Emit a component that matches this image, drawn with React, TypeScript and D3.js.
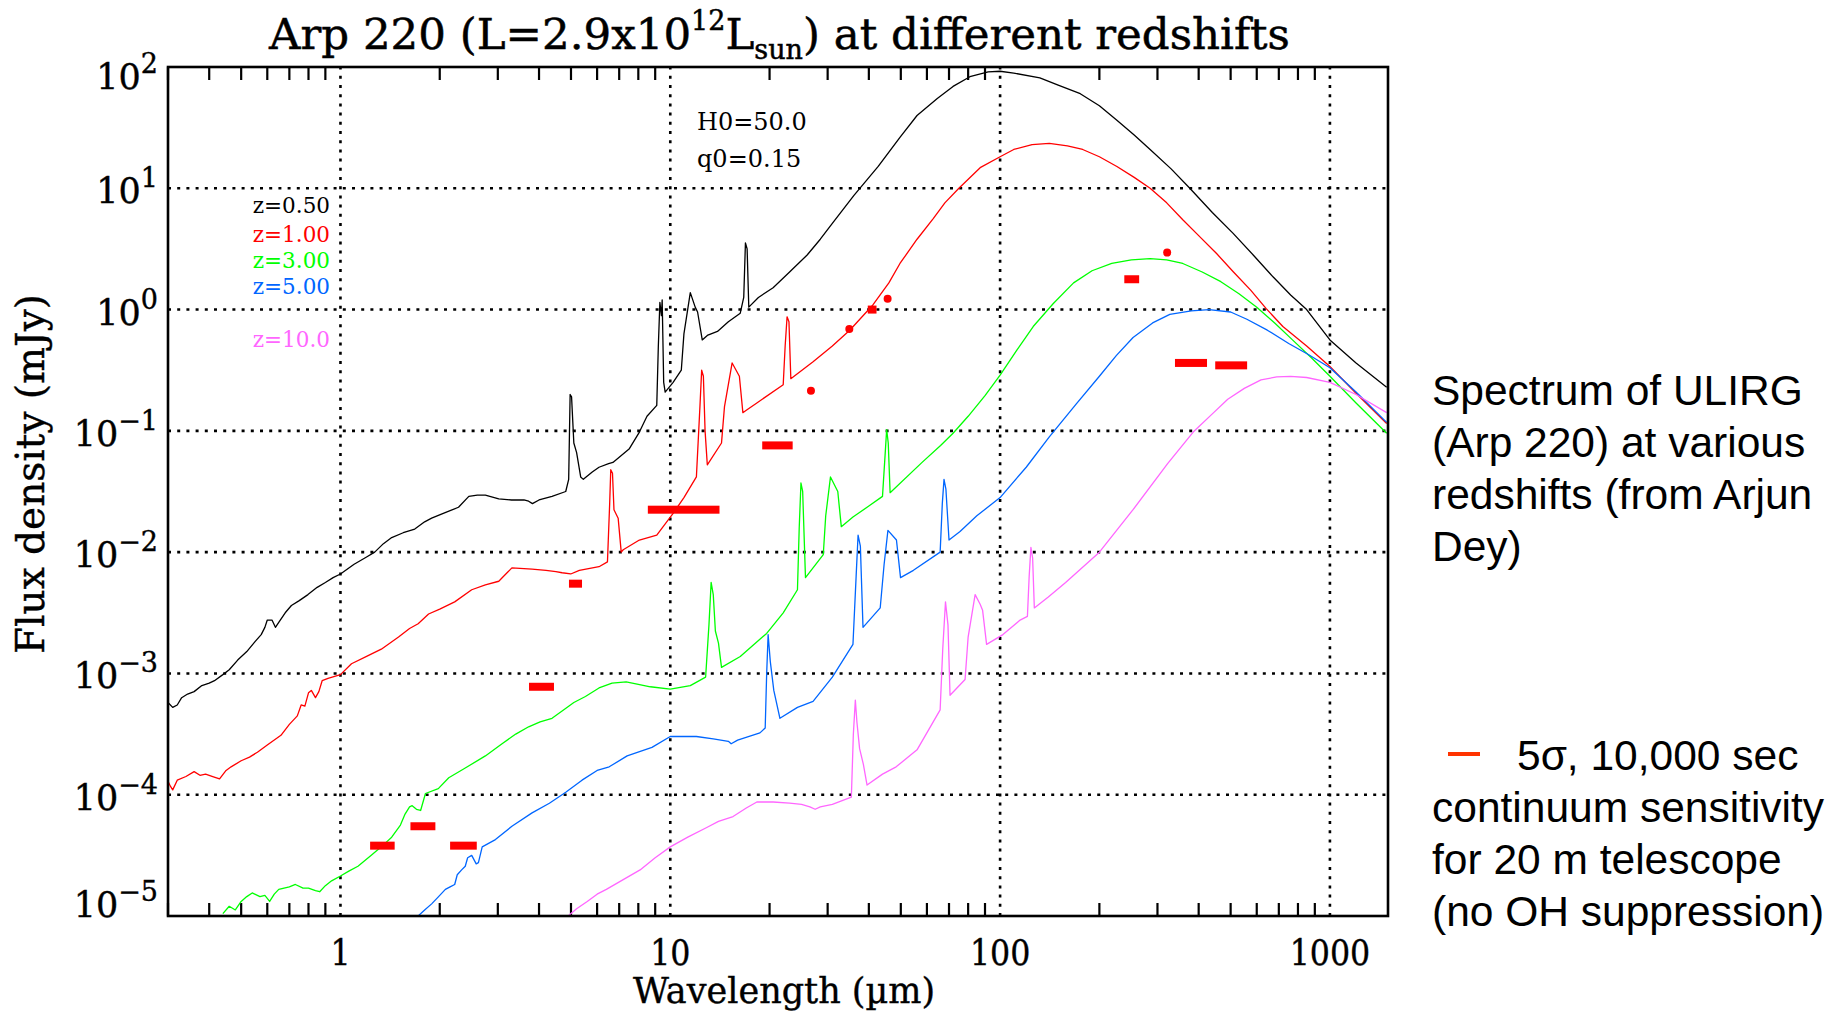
import React from 'react';
import * as d3 from 'd3';

const W = 1835;
const H = 1014;
const PLOT = { left: 168, right: 1388, top: 67, bottom: 916 };

const xDomain: [number, number] = [0.3, 1500];
const yDomain: [number, number] = [1e-5, 1e2];
const xTickValues = [1, 10, 100, 1000];
const xTickLabels = ['1', '10', '100', '1000'];
const yTickExponents = [2, 1, 0, -1, -2, -3, -4, -5];

const seriesNames = ['z=0.50', 'z=1.00', 'z=3.00', 'z=5.00', 'z=10.0'];
const seriesColors = ['#000000', '#ff0000', '#00ff00', '#0066ff', '#ff66ff'];

// [wavelength (µm), log10 flux density (mJy)]
const specZ050: [number, number][] = [
  [0.30, -3.24], [0.31, -3.28], [0.32, -3.26], [0.33, -3.20], [0.344, -3.17], [0.36, -3.15], [0.38, -3.10],
  [0.40, -3.08], [0.415, -3.06], [0.44, -3.01], [0.46, -2.97], [0.488, -2.89], [0.52, -2.82], [0.55, -2.74],
  [0.575, -2.68], [0.59, -2.62], [0.60, -2.56], [0.62, -2.56], [0.635, -2.62], [0.65, -2.58], [0.68, -2.50],
  [0.71, -2.44], [0.75, -2.40], [0.797, -2.35], [0.85, -2.29], [0.90, -2.25], [0.95, -2.21], [1.0, -2.18],
  [1.1, -2.10], [1.2, -2.04], [1.27, -2.0], [1.35, -1.93], [1.43, -1.88], [1.55, -1.84], [1.68, -1.81],
  [1.8, -1.75], [1.89, -1.72], [2.05, -1.68], [2.28, -1.63], [2.45, -1.54], [2.6, -1.53], [2.75, -1.53],
  [3.02, -1.56], [3.3, -1.57], [3.6, -1.57], [3.72, -1.58], [3.82, -1.60], [4.0, -1.57], [4.38, -1.54],
  [4.82, -1.50], [4.92, -1.40], [4.97, -0.70], [5.02, -0.72], [5.1, -1.10], [5.2, -1.18], [5.35, -1.38],
  [5.45, -1.40], [5.8, -1.34], [6.08, -1.30], [6.5, -1.27], [6.7, -1.26], [7.5, -1.15], [8.06, -1.01],
  [8.5, -0.88], [9.1, -0.79], [9.2, -0.30], [9.3, 0.06], [9.4, -0.05], [9.45, 0.08], [9.55, -0.60],
  [9.65, -0.68], [10.2, -0.60], [10.8, -0.50], [11.0, -0.20], [11.5, 0.14], [11.9, 0.02], [12.1, -0.02],
  [12.5, -0.25], [13.0, -0.21], [13.9, -0.18], [15, -0.10], [16.3, -0.03], [16.7, 0.10], [16.9, 0.55],
  [17.1, 0.50], [17.3, 0.02], [18.5, 0.10], [20.5, 0.18], [23, 0.31], [26, 0.45], [28.5, 0.58], [31, 0.71],
  [36, 0.94], [42.7, 1.18], [49.7, 1.42], [56, 1.60], [64.5, 1.74], [72, 1.84], [81, 1.92], [92, 1.96],
  [100, 1.965], [110, 1.95], [132, 1.91], [150, 1.85], [175, 1.78], [200, 1.68], [226, 1.56], [255, 1.44],
  [285, 1.32], [330, 1.16], [376, 1.0], [440, 0.80], [508, 0.63], [590, 0.44], [672, 0.27], [760, 0.12],
  [850, 0.0], [1000, -0.25], [1200, -0.44], [1486, -0.64],
];

const specZ100: [number, number][] = [
  [0.30, -3.89], [0.305, -3.93], [0.31, -3.96], [0.32, -3.88], [0.34, -3.85], [0.36, -3.81], [0.375, -3.84],
  [0.39, -3.83], [0.41, -3.85], [0.43, -3.87], [0.45, -3.80], [0.466, -3.77], [0.50, -3.72], [0.53, -3.69],
  [0.56, -3.65], [0.60, -3.59], [0.66, -3.51], [0.70, -3.42], [0.74, -3.35], [0.76, -3.26], [0.78, -3.27],
  [0.80, -3.16], [0.816, -3.14], [0.84, -3.20], [0.86, -3.15], [0.88, -3.06], [0.917, -3.04], [1.0, -3.01],
  [1.08, -2.92], [1.2, -2.86], [1.33, -2.80], [1.5, -2.70], [1.62, -2.63], [1.72, -2.59], [1.85, -2.51],
  [2.0, -2.47], [2.22, -2.41], [2.5, -2.31], [2.75, -2.27], [3.02, -2.24], [3.2, -2.17], [3.31, -2.13],
  [3.81, -2.14], [4.2, -2.15], [4.5, -2.16], [4.7, -2.17], [4.99, -2.18], [5.3, -2.15], [6.08, -2.12],
  [6.45, -2.08], [6.55, -1.60], [6.6, -1.32], [6.68, -1.35], [6.75, -1.65], [6.95, -1.72], [7.1, -2.0],
  [7.2, -1.98], [8.06, -1.90], [9.1, -1.86], [10.2, -1.68], [11, -1.55], [12.0, -1.38], [12.3, -0.80],
  [12.45, -0.50], [12.6, -0.55], [12.75, -1.00], [12.95, -1.28], [14.3, -1.10], [14.6, -0.80], [15.4, -0.44],
  [16.2, -0.55], [16.6, -0.85], [17.0, -0.83], [18.3, -0.77], [22.0, -0.62], [22.3, -0.30], [22.6, -0.06],
  [22.9, -0.10], [23.2, -0.57], [27.1, -0.43], [31, -0.30], [35, -0.17], [41.2, 0.04], [46, 0.22],
  [49.7, 0.38], [56, 0.58], [62.7, 0.75], [68, 0.88], [75, 1.0], [87, 1.17], [100, 1.26], [110, 1.32],
  [125, 1.36], [141, 1.37], [160, 1.35], [178, 1.32], [200, 1.26], [226, 1.18], [255, 1.09], [285, 1.0],
  [320, 0.88], [358, 0.74], [400, 0.61], [454, 0.46], [510, 0.31], [575, 0.16], [640, 0.01], [720, -0.14],
  [850, -0.30], [1000, -0.47], [1200, -0.69], [1486, -0.94],
];

const specZ300: [number, number][] = [
  [0.44, -4.98], [0.46, -4.92], [0.48, -4.95], [0.50, -4.88], [0.52, -4.84], [0.54, -4.81], [0.57, -4.84],
  [0.59, -4.83], [0.61, -4.88], [0.63, -4.82], [0.65, -4.78], [0.70, -4.76], [0.73, -4.74], [0.77, -4.77],
  [0.80, -4.77], [0.84, -4.79], [0.865, -4.80], [0.90, -4.75], [0.94, -4.71], [1.0, -4.67], [1.06, -4.63],
  [1.13, -4.59], [1.24, -4.50], [1.33, -4.43], [1.43, -4.35], [1.52, -4.25], [1.57, -4.16], [1.62, -4.10],
  [1.65, -4.09], [1.70, -4.12], [1.75, -4.13], [1.81, -3.99], [1.98, -3.95], [2.13, -3.86], [2.39, -3.78],
  [2.75, -3.68], [3.09, -3.58], [3.4, -3.50], [3.72, -3.44], [4.03, -3.40], [4.38, -3.37], [4.92, -3.27],
  [5.1, -3.24], [5.53, -3.19], [6.08, -3.12], [6.66, -3.08], [7.35, -3.07], [8.0, -3.09], [8.7, -3.11],
  [10, -3.13], [11.5, -3.10], [12.8, -3.03], [13.1, -2.60], [13.3, -2.25], [13.5, -2.35], [13.7, -2.65],
  [14.0, -2.75], [14.3, -2.95], [16.3, -2.86], [19.6, -2.67], [22, -2.50], [24.3, -2.31], [24.6, -1.80],
  [24.9, -1.43], [25.2, -1.50], [25.7, -2.21], [29.1, -2.02], [29.6, -1.70], [30.6, -1.38], [32.2, -1.50],
  [33, -1.79], [35.8, -1.71], [40, -1.62], [44, -1.54], [44.8, -1.20], [45.3, -0.99], [45.8, -1.10],
  [46.4, -1.51], [58, -1.26], [66, -1.12], [72, -1.02], [80, -0.88], [90, -0.71], [100, -0.54], [112, -0.34],
  [126, -0.14], [145, 0.05], [167, 0.22], [190, 0.32], [218, 0.38], [250, 0.41], [285, 0.42], [320, 0.41],
  [358, 0.38], [410, 0.31], [467, 0.23], [530, 0.13], [600, 0.02], [680, -0.11], [770, -0.25], [880, -0.40],
  [1000, -0.55], [1200, -0.77], [1486, -1.02],
];

const specZ500: [number, number][] = [
  [1.72, -5.0], [1.80, -4.95], [1.89, -4.90], [2.0, -4.83], [2.08, -4.78], [2.15, -4.76], [2.22, -4.74],
  [2.26, -4.66], [2.33, -4.62], [2.39, -4.59], [2.43, -4.52], [2.50, -4.50], [2.58, -4.57], [2.62, -4.56],
  [2.69, -4.43], [2.95, -4.37], [3.31, -4.26], [3.81, -4.15], [4.3, -4.07], [4.82, -3.98], [5.4, -3.88],
  [6.0, -3.80], [6.53, -3.77], [7.4, -3.68], [8.8, -3.61], [10, -3.52], [12, -3.52], [13.5, -3.54],
  [15, -3.56], [15.3, -3.58], [16, -3.55], [18.7, -3.49], [19.4, -3.45], [19.6, -3.0], [19.8, -2.68],
  [20.1, -2.9], [20.6, -3.14], [21.5, -3.37], [24.3, -3.28], [27.1, -3.23], [31, -3.03], [35.8, -2.76],
  [36.6, -2.2], [37.1, -1.86], [37.7, -1.95], [38.4, -2.62], [43.3, -2.46], [44.5, -2.1], [45.7, -1.82],
  [48.5, -1.90], [49.9, -2.21], [54.6, -2.15], [65.8, -2.00], [66.8, -1.6], [67.6, -1.40], [68.5, -1.48],
  [70, -1.90], [75.6, -1.83], [85, -1.70], [100, -1.55], [120, -1.30], [141, -1.05], [170, -0.78],
  [200, -0.55], [225, -0.38], [253, -0.23], [290, -0.11], [327, -0.04], [380, -0.01], [430, 0.0],
  [500, -0.02], [560, -0.08], [646, -0.17], [750, -0.28], [860, -0.37], [1000, -0.48], [1200, -0.68],
  [1486, -0.93],
];

const specZ1000: [number, number][] = [
  [4.9, -5.0], [5.2, -4.94], [5.6, -4.88], [6.0, -4.82], [6.4, -4.78], [7.2, -4.70], [8.1, -4.62],
  [9, -4.52], [10, -4.43], [11.3, -4.35], [12.9, -4.27], [14, -4.22], [15.5, -4.18], [17, -4.11],
  [18.3, -4.06], [20.5, -4.06], [23, -4.07], [25, -4.08], [26.5, -4.10], [27.5, -4.12], [28.5, -4.10],
  [31, -4.08], [35.4, -4.02], [35.9, -3.50], [36.4, -3.22], [36.8, -3.40], [37.5, -3.62], [38.5, -3.75],
  [39.5, -3.92], [44, -3.83], [48.4, -3.77], [56, -3.63], [65.8, -3.30], [67, -2.80], [68.3, -2.41],
  [69.5, -2.60], [70.5, -3.18], [78.3, -3.05], [80, -2.70], [84, -2.35], [87, -2.43], [88.5, -2.48],
  [91, -2.76], [102, -2.68], [115, -2.56], [121, -2.53], [122.5, -2.20], [124, -1.96], [125.5, -2.05],
  [127, -2.46], [140, -2.37], [158, -2.25], [200, -2.0], [253, -1.65], [322, -1.27], [385, -1.01],
  [440, -0.86], [490, -0.74], [550, -0.65], [618, -0.58], [690, -0.555], [760, -0.55], [850, -0.56],
  [1000, -0.60], [1200, -0.70], [1486, -0.85],
];

const allSpectra = [specZ050, specZ100, specZ300, specZ500, specZ1000];

// sensitivity bars: [lambda min, lambda max, log10 flux]
const sensitivityBars: [number, number, number][] = [
  [1.23, 1.46, -4.42], [1.63, 1.94, -4.26], [2.15, 2.59, -4.42], [3.73, 4.44, -3.11],
  [4.93, 5.40, -2.26], [8.55, 14.1, -1.65], [19.0, 23.5, -1.12], [39.7, 42.2, 0.0],
  [238, 264, 0.25], [339, 424, -0.44], [449, 561, -0.46],
];
// sensitivity points: [lambda, log10 flux]
const sensitivityDots: [number, number][] = [
  [26.7, -0.67], [34.9, -0.16], [45.6, 0.09], [321, 0.47],
];

const legendBaselines = [213, 242, 268, 294, 347];

const serif = "'DejaVu Serif', serif";
const sans = "'Liberation Sans', Arial, sans-serif";

export default function App() {
  const x = d3.scaleLog().domain(xDomain).range([PLOT.left, PLOT.right]);
  const y = d3.scaleLog().domain(yDomain).range([PLOT.bottom, PLOT.top]);
  const line = d3
    .line<[number, number]>()
    .x((d) => x(d[0]))
    .y((d) => y(Math.pow(10, d[1])));

  const minorTicks: number[] = [];
  [0.1, 1, 10, 100, 1000].forEach((dec) => {
    for (let k = 2; k <= 9; k++) {
      const v = k * dec;
      if (v > xDomain[0] && v < xDomain[1]) minorTicks.push(v);
    }
  });

  const tickLen = 13;
  const gridStyle = { stroke: '#000', strokeWidth: 2.6, strokeDasharray: '3 6.2' };

  return (
    <svg
      width={W}
      height={H}
      style={{ position: 'fixed', left: 0, top: 0, background: '#fff' }}
      xmlns="http://www.w3.org/2000/svg"
    >
      <rect x={0} y={0} width={W} height={H} fill="#fff" />
      <defs>
        <clipPath id="plotClip">
          <rect x={PLOT.left} y={PLOT.top} width={PLOT.right - PLOT.left} height={PLOT.bottom - PLOT.top} />
        </clipPath>
      </defs>

      {/* Title */}
      <text x={269} y={49} fontFamily={serif} fontSize={43.5} fill="#000" stroke="#000" strokeWidth={0.5}>
        Arp 220 (L=2.9x10
        <tspan fontSize={27} dy={-19}>12</tspan>
        <tspan fontSize={43.5} dy={19}>L</tspan>
        <tspan fontSize={27} dy={10}>sun</tspan>
        <tspan fontSize={43.5} dy={-10}>) at different redshifts</tspan>
      </text>

      {/* grid */}
      {xTickValues.map((v) => (
        <line key={'gx' + v} x1={x(v)} x2={x(v)} y1={PLOT.bottom} y2={PLOT.top} {...gridStyle} />
      ))}
      {yTickExponents
        .filter((e) => e < 2 && e > -5)
        .map((e) => (
          <line key={'gy' + e} x1={PLOT.left} x2={PLOT.right} y1={y(Math.pow(10, e))} y2={y(Math.pow(10, e))} {...gridStyle} />
        ))}

      {/* minor ticks */}
      {minorTicks.map((v) => (
        <g key={'mt' + v}>
          <line x1={x(v)} x2={x(v)} y1={PLOT.top} y2={PLOT.top + tickLen} stroke="#000" strokeWidth={2.2} />
          <line x1={x(v)} x2={x(v)} y1={PLOT.bottom} y2={PLOT.bottom - tickLen} stroke="#000" strokeWidth={2.2} />
        </g>
      ))}

      {/* spectra */}
      <g clipPath="url(#plotClip)">
        {allSpectra.map((s, i) => (
          <path key={'s' + i} d={line(s) || ''} fill="none" stroke={seriesColors[i]} strokeWidth={1.3} strokeLinejoin="round" />
        ))}
        {sensitivityBars.map((b, i) => (
          <rect
            key={'b' + i}
            x={x(b[0])}
            width={x(b[1]) - x(b[0])}
            y={y(Math.pow(10, b[2])) - 4}
            height={8}
            fill="#ff0000"
          />
        ))}
        {sensitivityDots.map((d, i) => (
          <circle key={'d' + i} cx={x(d[0])} cy={y(Math.pow(10, d[1]))} r={4} fill="#ff0000" />
        ))}
      </g>

      {/* frame */}
      <rect
        x={PLOT.left}
        y={PLOT.top}
        width={PLOT.right - PLOT.left}
        height={PLOT.bottom - PLOT.top}
        fill="none"
        stroke="#000"
        strokeWidth={2.6}
      />

      {/* x tick labels */}
      {xTickValues.map((v, i) => (
        <g key={'xl' + v} transform={`translate(${x(v)},965) scale(0.88,1)`}>
          <text x={0} y={0} textAnchor="middle" fontFamily={serif} fontSize={36} fill="#000" stroke="#000" strokeWidth={0.4}>
            {xTickLabels[i]}
          </text>
        </g>
      ))}

      {/* y tick labels */}
      {yTickExponents.map((e) => {
        const gy = y(Math.pow(10, e));
        const off = e === 2 ? 22 : e === -5 ? 1 : 15;
        return (
          <g key={'yl' + e} transform={`translate(158,${gy + off})`}>
            <text x={0} y={0} textAnchor="end" fontFamily={serif} fontSize={35} fill="#000" stroke="#000" strokeWidth={0.4}>
              10
              <tspan fontSize={27} dy={-16}>{e < 0 ? '\u2212' + Math.abs(e) : String(e)}</tspan>
            </text>
          </g>
        );
      })}

      {/* axis titles */}
      <text x={784} y={1003} textAnchor="middle" fontFamily={serif} fontSize={35} fill="#000" stroke="#000" strokeWidth={0.4}>
        Wavelength (µm)
      </text>
      <text
        transform="translate(44,474) rotate(-90)"
        textAnchor="middle"
        fontFamily={serif}
        fontSize={39}
        fill="#000"
        stroke="#000"
        strokeWidth={0.4}
      >
        Flux density (mJy)
      </text>

      {/* in-plot legend */}
      {seriesNames.map((n, i) => (
        <text key={'lg' + i} x={330} y={legendBaselines[i]} textAnchor="end" fontFamily={serif} fontSize={21.5} fill={seriesColors[i]}>
          {n}
        </text>
      ))}
      <text x={697} y={130} fontFamily={serif} fontSize={24} fill="#000">H0=50.0</text>
      <text x={697} y={167} fontFamily={serif} fontSize={24} fill="#000">q0=0.15</text>

      {/* side annotations */}
      <g fontFamily={sans} fontSize={42.5} fill="#000">
        <text x={1432} y={405}>Spectrum of ULIRG</text>
        <text x={1432} y={457}>(Arp 220) at various</text>
        <text x={1432} y={509}>redshifts (from Arjun</text>
        <text x={1432} y={561}>Dey)</text>
        <text x={1517} y={770}>5σ, 10,000 sec</text>
        <text x={1432} y={822}>continuum sensitivity</text>
        <text x={1432} y={874}>for 20 m telescope</text>
        <text x={1432} y={926}>(no OH suppression)</text>
      </g>
      <line x1={1448} x2={1480} y1={754} y2={754} stroke="#ff3300" strokeWidth={4} />
    </svg>
  );
}
